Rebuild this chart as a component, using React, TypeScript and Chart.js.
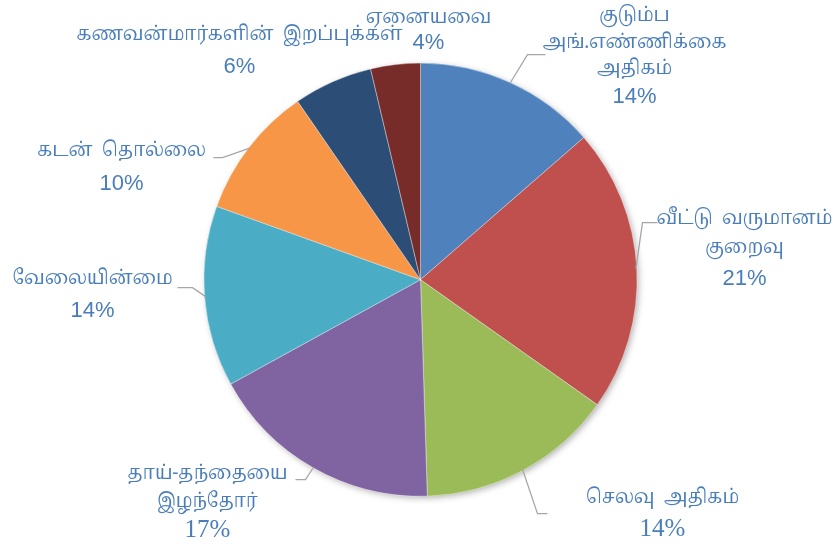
import React, { useEffect, useRef } from "react";
import { Chart, registerables } from "chart.js";

Chart.register(...registerables);

const categories: string[] = [
  "குடும்ப\nஅங்.எண்ணிக்கை\nஅதிகம்",
  "வீட்டு  வருமானம்\nகுறைவு",
  "செலவு  அதிகம்",
  "தாய்-தந்தையை\nஇழந்தோர்",
  "வேலையின்மை",
  "கடன்  தொல்லை",
  "கணவன்மார்களின்  இறப்புக்கள்",
  "ஏனையவை",
];
const values: number[] = [13.6, 21.2, 14.7, 17.5, 13.5, 9.9, 5.9, 3.7];
const percentLabels: string[] = ["14%", "21%", "14%", "17%", "14%", "10%", "6%", "4%"];
const colors: string[] = ["#4F81BD", "#C0504D", "#9BBB59", "#8064A2", "#4BACC6", "#F79646", "#2C4D75", "#772C2A"];

// label layout relative to pie centre
type Lay = { dx: number; dy: number; lh: number; serifPct: boolean; leader: number[] | null };
const layouts: Lay[] = [
  { dx: 214, dy: -262, lh: 26.5, serifPct: false, leader: [107, -225, 125, -225] },
  { dx: 324, dy: -59, lh: 29, serifPct: false, leader: [222, -57, 237, -57] },
  { dx: 242, dy: 220, lh: 30, serifPct: true, leader: [117, 234, 127, 234] },
  { dx: -213, dy: 196, lh: 27.5, serifPct: true, leader: [-115, 200, -125, 200] },
  { dx: -328, dy: 1, lh: 30, serifPct: false, leader: [-228, 8, -243, 8] },
  { dx: -299, dy: -127, lh: 31, serifPct: false, leader: [-198, -122, -207, -122] },
  { dx: -181, dy: -243, lh: 30, serifPct: false, leader: null },
  { dx: 8, dy: -260, lh: 23, serifPct: false, leader: null },
];

const TAMIL_FONT = "'Noto Serif Tamil', 'Noto Sans Tamil', Latha, 'Lohit Tamil', FreeSerif, serif";
const TEXT_COLOR = "#4A7EBB";

const shadowPlugin = {
  id: "pieShadow",
  beforeDatasetsDraw(chart: any) {
    const meta = chart.getDatasetMeta(0);
    const arc = meta.data[0];
    if (!arc) return;
    const { x, y, outerRadius } = arc.getProps(["x", "y", "outerRadius"], true);
    const ctx = chart.ctx;
    ctx.save();
    ctx.shadowColor = "rgba(0,0,0,0.35)";
    ctx.shadowBlur = 7;
    ctx.shadowOffsetX = 2;
    ctx.shadowOffsetY = 2;
    ctx.fillStyle = "#888";
    ctx.beginPath();
    ctx.arc(x, y, outerRadius - 1, 0, Math.PI * 2);
    ctx.fill();
    ctx.restore();
  },
};

const labelPlugin = {
  id: "outLabels",
  afterDatasetsDraw(chart: any) {
    const meta = chart.getDatasetMeta(0);
    const ctx = chart.ctx;
    meta.data.forEach((arc: any, i: number) => {
      const p = arc.getProps(["x", "y", "startAngle", "endAngle", "outerRadius"], true);
      const cx = p.x, cy = p.y;
      const mid = (p.startAngle + p.endAngle) / 2;
      const lay = layouts[i];
      if (lay.leader) {
        const sx = cx + Math.cos(mid) * (p.outerRadius - 1);
        const sy = cy + Math.sin(mid) * (p.outerRadius - 1);
        ctx.save();
        ctx.strokeStyle = "#A6A6A6";
        ctx.lineWidth = 1.3;
        ctx.beginPath();
        ctx.moveTo(sx, sy);
        ctx.lineTo(cx + lay.leader[0], cy + lay.leader[1]);
        ctx.lineTo(cx + lay.leader[2], cy + lay.leader[3]);
        ctx.stroke();
        ctx.restore();
      }
      const lines = categories[i].split("\n");
      ctx.save();
      ctx.fillStyle = TEXT_COLOR;
      ctx.textAlign = "center";
      ctx.textBaseline = "middle";
      const lx = cx + lay.dx;
      let ly = cy + lay.dy;
      ctx.font = "20px " + TAMIL_FONT;
      lines.forEach((ln) => {
        ctx.save();
        ctx.translate(lx, ly);
        ctx.scale(0.9, 1);
        ctx.fillText(ln, 0, 0);
        ctx.restore();
        ly += lay.lh;
      });
      ctx.font = lay.serifPct ? "25px 'Liberation Serif', serif" : "22px 'Liberation Sans', sans-serif";
      ctx.fillText(percentLabels[i], lx, ly);
      ctx.restore();
    });
  },
};

export default function App() {
  const ref = useRef<HTMLCanvasElement | null>(null);
  useEffect(() => {
    document.body.style.margin = "0";
    const chart = new Chart(ref.current as HTMLCanvasElement, {
      type: "pie",
      data: {
        labels: categories,
        datasets: [
          {
            data: values,
            backgroundColor: colors,
            borderColor: "rgba(255,255,255,0.5)",
            borderWidth: 0.8,
          },
        ],
      },
      options: {
        animation: false,
        responsive: false,
        layout: { padding: { left: 203.5, right: 200.5, top: 62.7, bottom: 50.3 } },
        plugins: { legend: { display: false }, tooltip: { enabled: false } },
      },
      plugins: [shadowPlugin, labelPlugin],
    });
    return () => chart.destroy();
  }, []);
  return (
    <div style={{ width: 838, height: 547, background: "#fff" }}>
      <canvas ref={ref} width={838} height={547} style={{ width: 838, height: 547, display: "block" }} />
    </div>
  );
}
